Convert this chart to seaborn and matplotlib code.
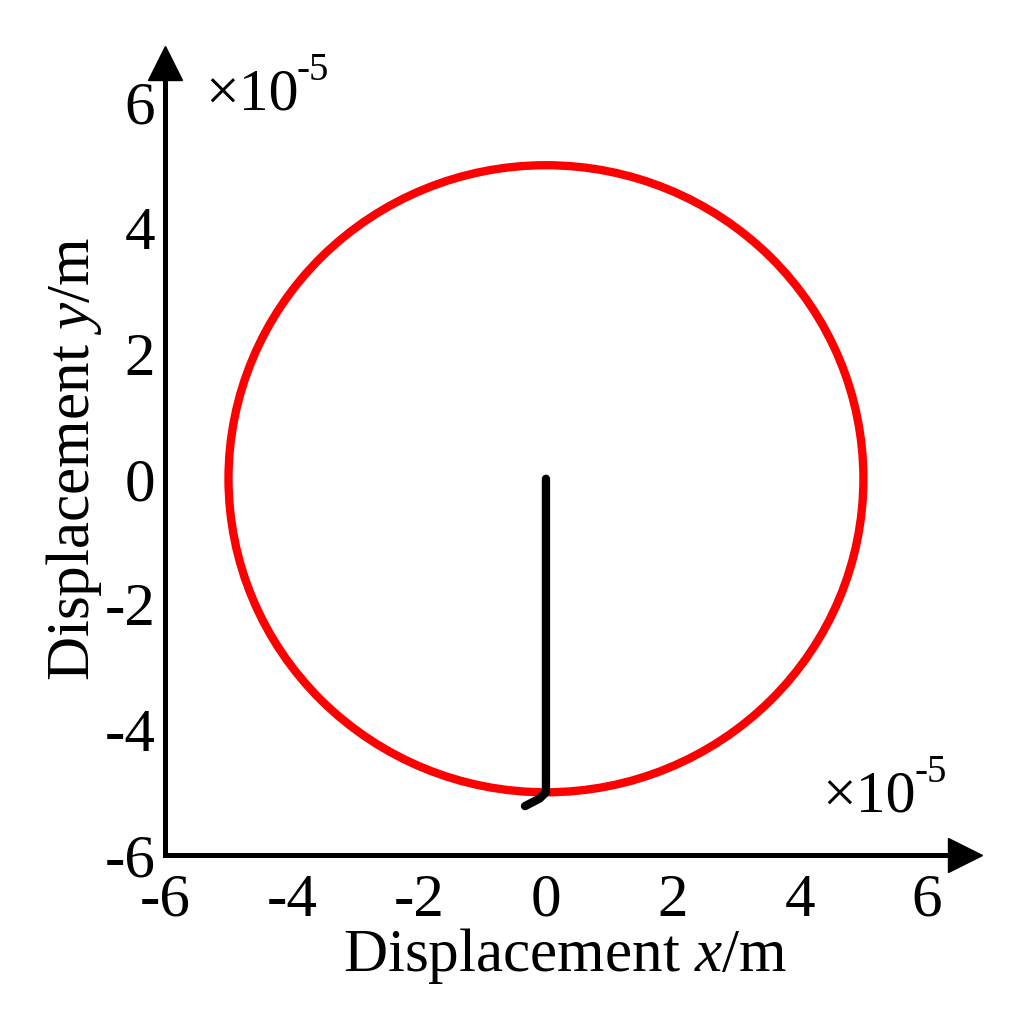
import numpy as np
import pandas as pd
import matplotlib
matplotlib.use('Agg')
import matplotlib.pyplot as plt
from matplotlib.patches import Ellipse
import seaborn as sns

# Data (units of 1e-5 m)
circle_center = [0.0, 0.0]
circle_radius = 5.0
traj_x = [0.0, 0.0, 0.0, 0.0, -0.1, -0.33]
traj_y = [0.0, -2.0, -4.0, -5.0, -5.1, -5.22]
ticks = [-6, -4, -2, 0, 2, 4, 6]

sns.set_theme(style='white')
plt.rcParams['font.family'] = ['Liberation Serif', 'DejaVu Serif']
plt.rcParams['axes.unicode_minus'] = False
plt.rcParams['text.color'] = 'black'
plt.rcParams['axes.labelcolor'] = 'black'
plt.rcParams['mathtext.fontset'] = 'custom'
plt.rcParams['mathtext.rm'] = 'Liberation Serif'
plt.rcParams['mathtext.it'] = 'Liberation Serif:italic'

W, H = 1010, 1023
fig = plt.figure(figsize=(W / 100, H / 100), dpi=100)
ax = fig.add_axes([165 / W, (H - 855) / H, (965 - 165) / W, (855 - 63) / H])

# red circle
ax.add_patch(Ellipse(circle_center, 2 * circle_radius, 2 * circle_radius,
                     fill=False, edgecolor='#ff0000', lw=6))

# black trajectory
df = pd.DataFrame({'x': traj_x, 'y': traj_y})
sns.lineplot(data=df, x='x', y='y', sort=False, estimator=None, color='black',
             lw=6, ax=ax, solid_capstyle='round')

ax.set_xlim(-6, 6.6)
ax.set_ylim(-6, 6.63)
ax.set_xticks(ticks)
ax.set_yticks(ticks)
ax.set_xticklabels([str(t) for t in ticks])
ax.set_yticklabels([str(t) for t in ticks])

for s in ['top', 'right']:
    ax.spines[s].set_visible(False)
for s in ['left', 'bottom']:
    ax.spines[s].set_linewidth(3.6)
    ax.spines[s].set_color('black')

ax.tick_params(direction='in', length=7, width=3.6, labelsize=44, colors='black')
ax.tick_params(axis='x', pad=13)
ax.tick_params(axis='y', pad=7)

# arrow heads
ax.plot([6.6], [-6], marker='>', ms=24, color='black', clip_on=False)
ax.plot([-6], [6.63], marker='^', ms=24, color='black', clip_on=False)

ax.set_xlabel('Displacement $\\mathit{x}$/m', fontsize=44, color='black', labelpad=-2)
ax.set_ylabel('Displacement $\\mathit{y}$/m', fontsize=44, color='black', labelpad=0)

# multiplier texts
def mult(x, y):
    fig.text(x / W, 1 - y / H, '\u00d710', fontsize=43, va='baseline', ha='left', color='black')
    fig.text((x + 92) / W, 1 - (y - 30) / H, '-5', fontsize=28, va='baseline', ha='left', color='black')

mult(205, 110)
mult(822, 812)

fig.savefig('out.png', dpi=100, facecolor='white')
